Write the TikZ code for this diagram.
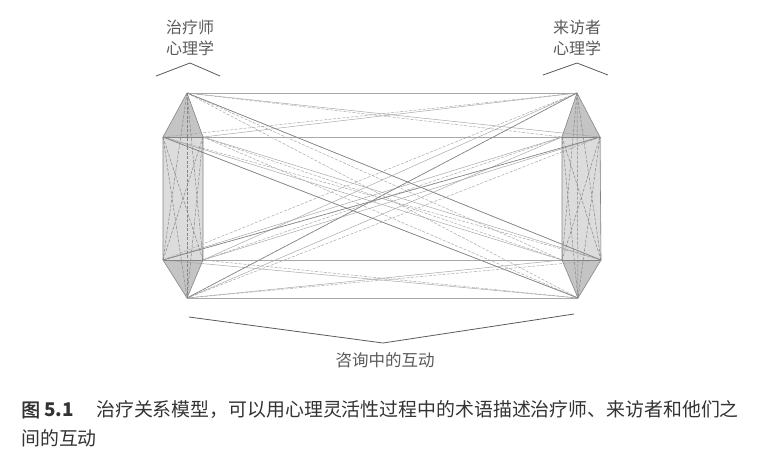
\documentclass[tikz,border=0pt]{standalone}
\usepackage{fontspec}
\usepackage{xcolor}
\usetikzlibrary{calc}
\setmainfont{Liberation Serif}
\newfontfamily\cjk{Noto Sans CJK SC}
\newfontfamily\cjkb{Noto Sans CJK SC}[FakeBold=1.5]
\definecolor{ink}{HTML}{5A5A5A}
\definecolor{capt}{HTML}{333333}
\definecolor{wire}{HTML}{A8A8A8}
\definecolor{wiredark}{HTML}{858585}
\definecolor{face}{HTML}{C4C4C4}
\tikzset{
  link/.style={draw=wire, line width=0.5pt},
  linkd/.style={draw=wire, line width=0.5pt, dash pattern=on 3pt off 1.5pt},
  linkk/.style={draw=wiredark, line width=0.6pt},
  rim/.style={draw=wiredark, line width=0.6pt, line join=round},
  brace/.style={draw=ink, line width=0.8pt, line join=miter},
  lab/.style={text=ink, font=\cjk\fontsize{16}{21}\selectfont, align=center, inner sep=0pt},
  captext/.style={text=capt, font=\cjk\fontsize{18.9}{28}\selectfont, anchor=west, inner sep=0pt},
}

\begin{document}
\begin{tikzpicture}[x=1pt,y=-1pt]
  \useasboundingbox (0,0) rectangle (760,459);
  % left hexagon (therapist)
  \coordinate (LT)  at (187,93);
  \coordinate (LUL) at (163,137);
  \coordinate (LUR) at (203,137);
  \coordinate (LLL) at (163,260);
  \coordinate (LLR) at (203,260);
  \coordinate (LB)  at (187,298);
  % right hexagon (client)
  \coordinate (RT)  at (577,93);
  \coordinate (RUL) at (562,137);
  \coordinate (RUR) at (600,137);
  \coordinate (RLL) at (562,260);
  \coordinate (RLR) at (601,260);
  \coordinate (RB)  at (578,298);
  % shaded faces
  \foreach \S in {L,R}{
    \fill[face] (\S T)--(\S UL)--(\S UR)--cycle;
    \fill[face] (\S B)--(\S LL)--(\S LR)--cycle;
    \shade[top color=face!60, middle color=white, bottom color=face!60]
      (\S UL) rectangle (\S LR);
  }
  % links between the two
  \foreach \a [count=\i] in {T,UL,UR,LL,LR,B}
    \foreach \b [count=\j] in {T,UL,UR,LL,LR,B}{
      \pgfmathtruncatemacro\k{mod(\i+\j,2)}
      \ifnum\k=0 \draw[link] (L\a) -- (R\b); \else \draw[linkd] (L\a) -- (R\b); \fi
    }
  \draw[linkk] (LT) -- (RLR);
  \draw[linkk] (LB) -- (RT);
  \draw[linkk] (LUL) -- (RB);
  \draw[linkk] (LLL) -- (RUR);
  % inside each hexagon
  \foreach \S in {L,R}{
    \draw[rim] (\S T)--(\S UL)--(\S LL)--(\S B)--(\S LR)--(\S UR)--cycle;
    \draw[rim] (\S UL)--(\S UR) (\S LL)--(\S LR);
    \foreach \a/\b in {T/LL, T/LR, T/B, UL/LR, UR/LL, UL/B, UR/B}
      \draw[linkd, draw=wiredark] (\S\a) -- (\S\b);
  }
  % labels and brackets
  \node[lab] (thr) at (190,37.5) {治疗师\\心理学};
  \node[lab] (cli) at (577,37.5) {来访者\\心理学};
  \coordinate (thrA) at (156,76);
  \coordinate (thrP) at (190,63);
  \coordinate (thrB) at (220,76);
  \coordinate (cliA) at (543,75);
  \coordinate (cliP) at (577,63);
  \coordinate (cliB) at (608,75);
  \draw[brace] (thrA) -- (thrP) -- (thrB);
  \draw[brace] (cliA) -- (cliP) -- (cliB);
  \coordinate (midA) at (189,317);
  \coordinate (midP) at (383,343);
  \coordinate (midB) at (574,314);
  \draw[brace] (midA) -- (midP) -- (midB);
  \node[lab, font=\cjk\fontsize{16.5}{20}\selectfont] (mid) at (385,360) {咨询中的互动};
  % caption
  \node[captext] (fig) at (21,410) {{\cjkb 图}\ \textbf{5.1}};
  \node[captext] (cap1) at (96,410) {治疗关系模型，可以用心理灵活性过程中的术语描述治疗师、来访者和他们之};
  \node[captext] (cap2) at (21,438) {间的互动};
\end{tikzpicture}
\end{document}
